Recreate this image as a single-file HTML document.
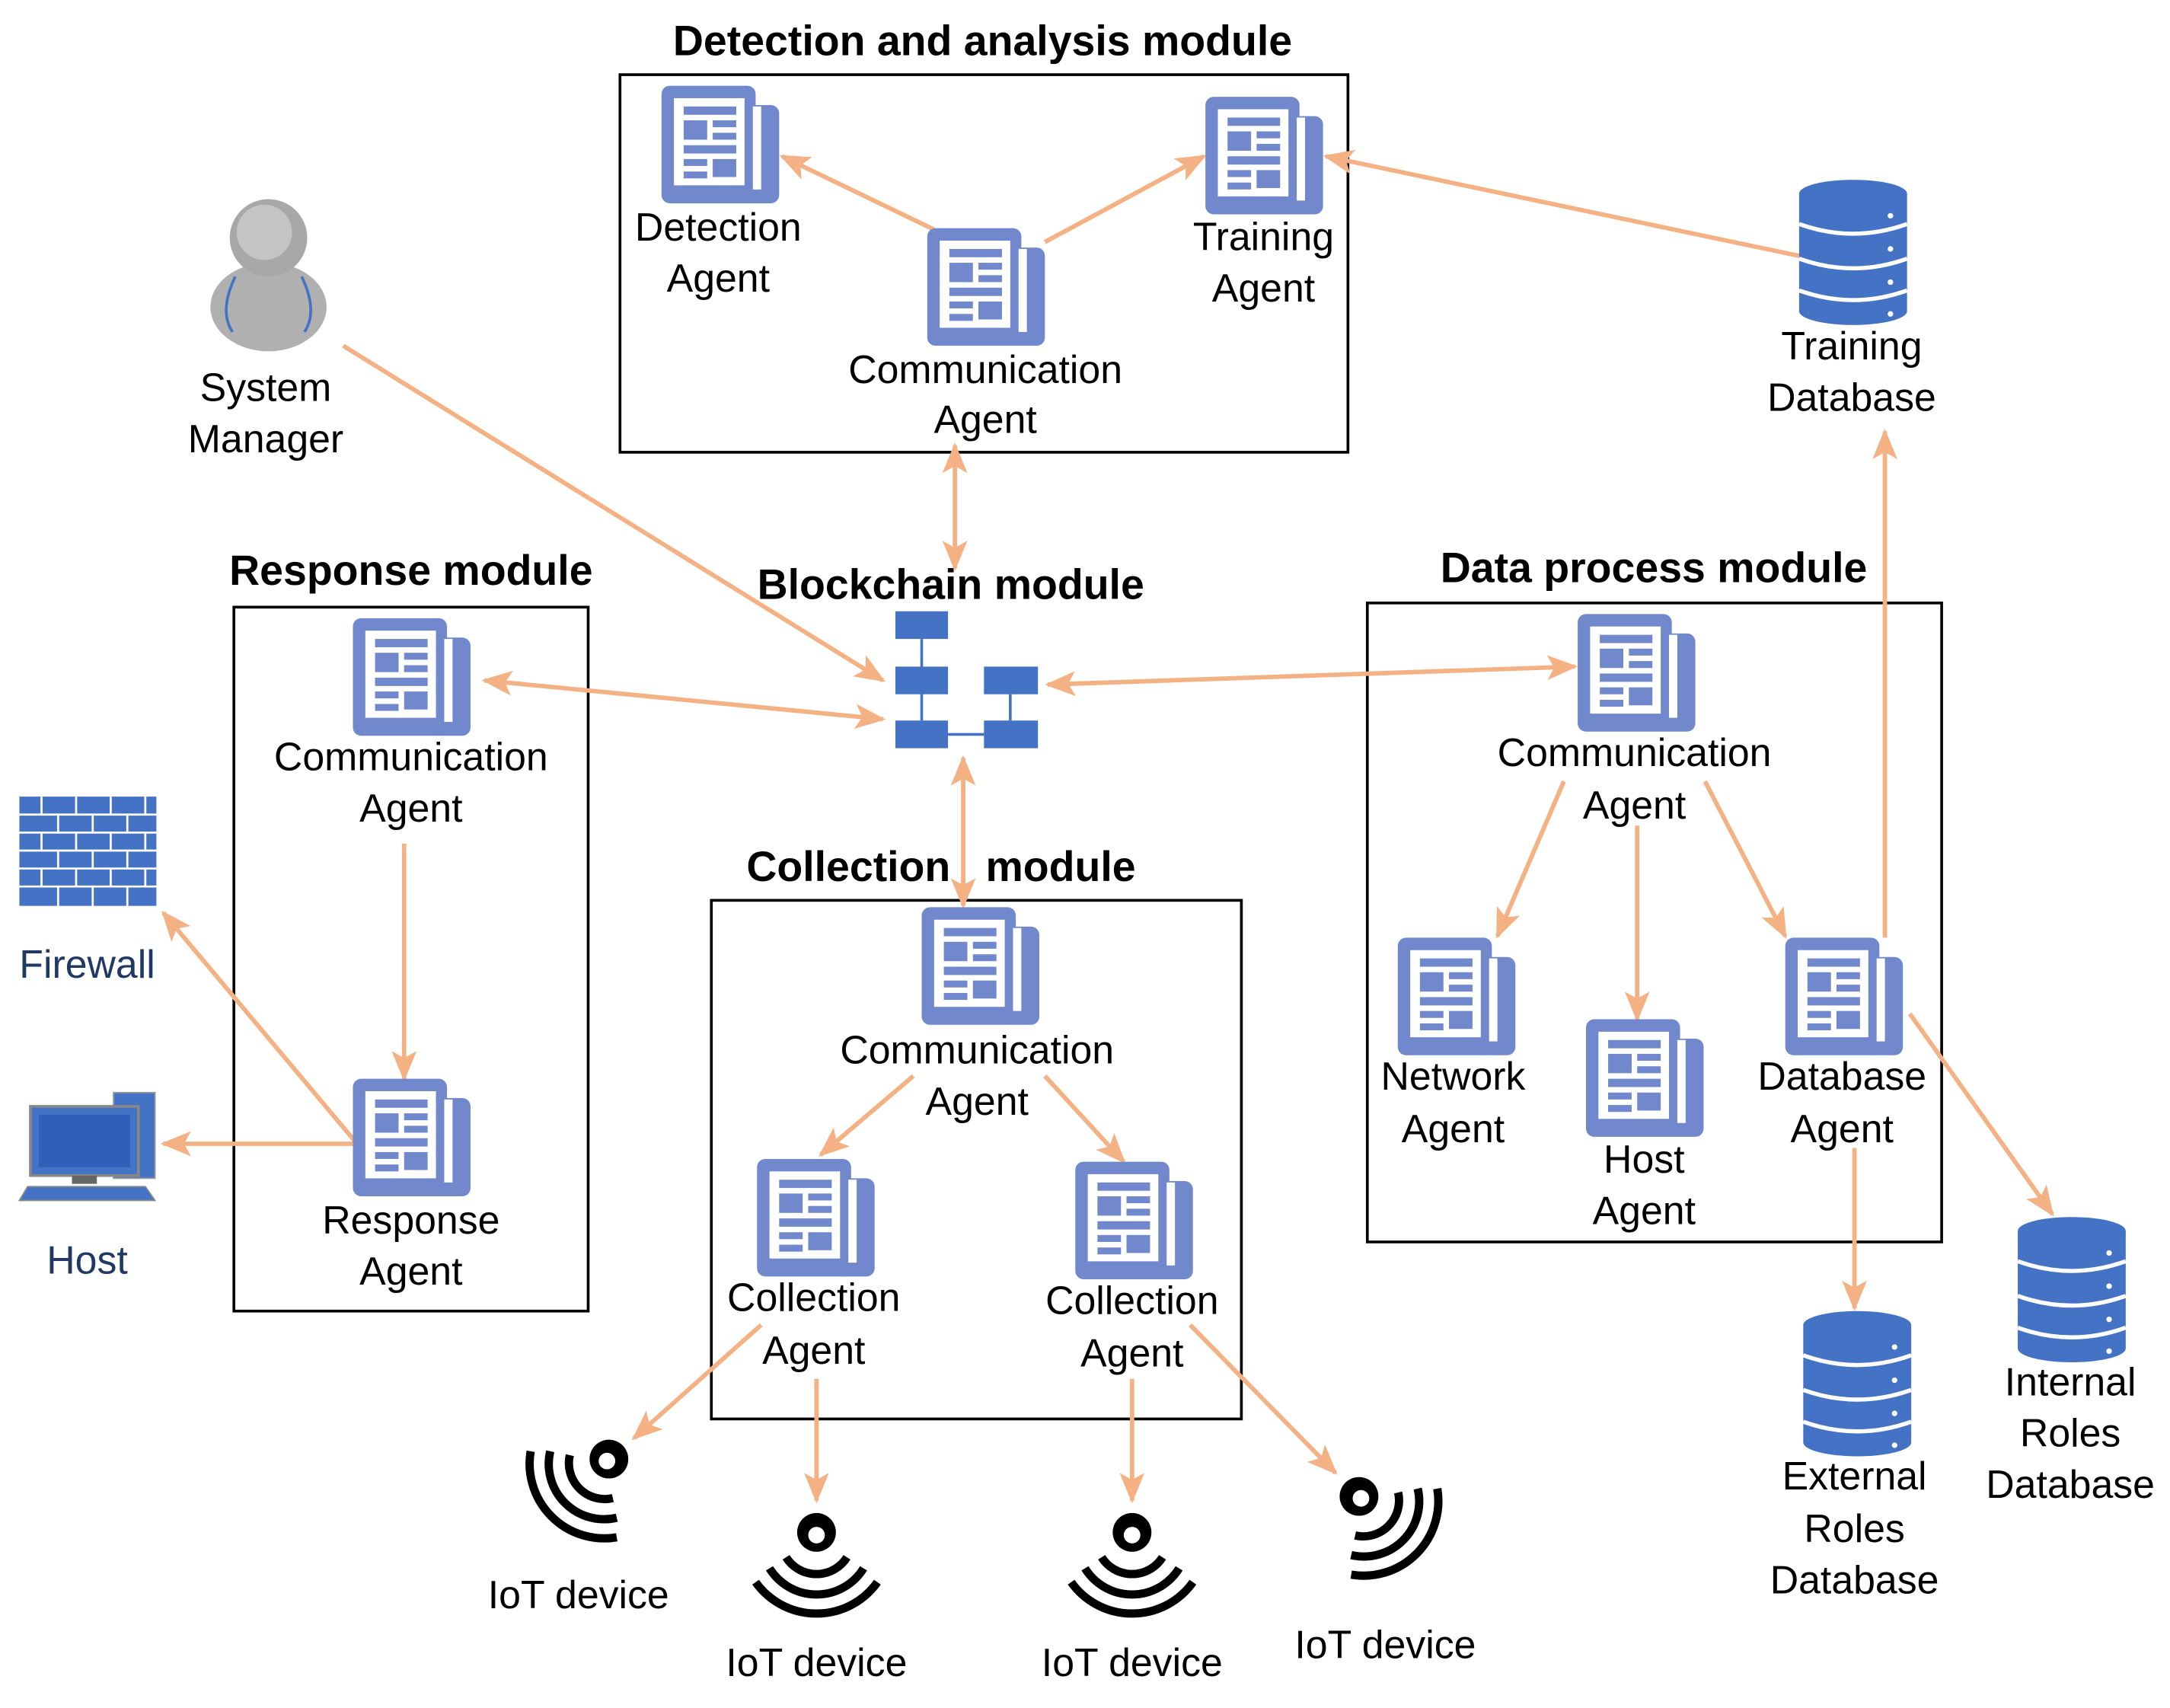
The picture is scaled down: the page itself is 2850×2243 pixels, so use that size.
<!DOCTYPE html>
<html><head><meta charset="utf-8"><style>
html,body{margin:0;padding:0;background:#fff;}
svg{display:block;}
text{font-family:"Liberation Sans",sans-serif;font-size:28.5px;text-anchor:middle;fill:#000;}
.t{font-weight:bold;font-size:30.5px;}
.a{stroke:#f4b183;stroke-width:3.2;fill:none;}
</style></head><body>
<svg width="2850" height="2243" viewBox="0 0 1568 1235" preserveAspectRatio="none" xmlns="http://www.w3.org/2000/svg">
<defs>
<marker id="m" markerWidth="22" markerHeight="18" refX="20" refY="9" orient="auto-start-reverse" markerUnits="userSpaceOnUse">
<path d="M0,0 L22,9 L0,18 L5,9 z" fill="#f4b183"/></marker>
<g id="ag">
<rect x="0" y="0" width="68" height="85" rx="6" fill="#7189cc"/>
<rect x="56" y="14" width="29" height="71" rx="6" fill="#7189cc"/>
<rect x="9" y="9" width="51" height="63" fill="#fff"/>
<rect x="66" y="15" width="6" height="60" fill="#fff"/>
<rect x="16" y="15" width="38" height="6" fill="#7189cc"/>
<rect x="16" y="25" width="17" height="14" fill="#7189cc"/>
<rect x="37" y="25" width="17" height="5" fill="#7189cc"/>
<rect x="37" y="34" width="17" height="5" fill="#7189cc"/>
<rect x="16" y="43" width="38" height="6" fill="#7189cc"/>
<rect x="16" y="53" width="17" height="5" fill="#7189cc"/>
<rect x="37" y="53" width="17" height="13" fill="#7189cc"/>
<rect x="16" y="62" width="17" height="5" fill="#7189cc"/>
</g>
<g id="db">
<rect x="0" y="10" width="78" height="85" fill="#4472c4"/>
<ellipse cx="39" cy="10" rx="39" ry="10" fill="#4472c4"/>
<ellipse cx="39" cy="95" rx="39" ry="10" fill="#4472c4"/>
<path d="M0,32 Q39,46 78,32 M0,57 Q39,71 78,57 M0,80 Q39,94 78,80" stroke="#fff" stroke-width="3" fill="none"/>
<circle cx="66" cy="26" r="2" fill="#fff"/><circle cx="66" cy="50" r="2" fill="#fff"/><circle cx="66" cy="74" r="2" fill="#fff"/><circle cx="66" cy="97" r="2" fill="#fff"/>
</g>
<g id="iot">
<circle cx="0" cy="0" r="14" fill="#000"/><circle cx="0" cy="2" r="6" fill="#fff"/>
<path d="M-22,18 A26,26 0 0 0 22,18 M-34,26 A40,40 0 0 0 34,26 M-44,36 A54,54 0 0 0 44,36" stroke="#000" stroke-width="6" fill="none"/>
</g>
</defs>

<rect x="448" y="54" width="526" height="273" fill="none" stroke="#000" stroke-width="2"/>
<rect x="169" y="439" width="256" height="509" fill="none" stroke="#000" stroke-width="2"/>
<rect x="514" y="651" width="383" height="375" fill="none" stroke="#000" stroke-width="2"/>
<rect x="988" y="436" width="415" height="462" fill="none" stroke="#000" stroke-width="2"/>

<text class="t" x="710" y="40">Detection and analysis module</text>
<text class="t" x="297" y="423">Response module</text>
<text class="t" x="687" y="433">Blockchain module</text>
<text class="t" x="680" y="637" xml:space="preserve">Collection   module</text>
<text class="t" x="1195" y="421">Data process module</text>

<g class="a">
<line x1="675" y1="166" x2="565" y2="113" marker-end="url(#m)"/>
<line x1="755" y1="175" x2="870" y2="113" marker-end="url(#m)"/>
<line x1="1300" y1="185" x2="958" y2="113" marker-end="url(#m)"/>
<line x1="690" y1="322" x2="690" y2="411" marker-start="url(#m)" marker-end="url(#m)"/>
<line x1="248" y1="250" x2="638" y2="492" marker-end="url(#m)"/>
<line x1="350" y1="492" x2="638" y2="520" marker-start="url(#m)" marker-end="url(#m)"/>
<line x1="757" y1="495" x2="1138" y2="482" marker-start="url(#m)" marker-end="url(#m)"/>
<line x1="696" y1="548" x2="696" y2="655" marker-start="url(#m)" marker-end="url(#m)"/>
<line x1="292" y1="610" x2="292" y2="780" marker-end="url(#m)"/>
<line x1="258" y1="827" x2="118" y2="827" marker-end="url(#m)"/>
<line x1="258" y1="827" x2="118" y2="660" marker-end="url(#m)"/>
<line x1="1130" y1="565" x2="1082" y2="677" marker-end="url(#m)"/>
<line x1="1183" y1="597" x2="1183" y2="737" marker-end="url(#m)"/>
<line x1="1232" y1="565" x2="1290" y2="677" marker-end="url(#m)"/>
<line x1="1362" y1="678" x2="1362" y2="312" marker-end="url(#m)"/>
<line x1="1340" y1="830" x2="1340" y2="946" marker-end="url(#m)"/>
<line x1="1380" y1="733" x2="1483" y2="878" marker-end="url(#m)"/>
<line x1="660" y1="778" x2="593" y2="835" marker-end="url(#m)"/>
<line x1="755" y1="778" x2="812" y2="840" marker-end="url(#m)"/>
<line x1="550" y1="958" x2="458" y2="1040" marker-end="url(#m)"/>
<line x1="590" y1="997" x2="590" y2="1085" marker-end="url(#m)"/>
<line x1="818" y1="997" x2="818" y2="1085" marker-end="url(#m)"/>
<line x1="860" y1="958" x2="965" y2="1065" marker-end="url(#m)"/>
</g>

<use href="#ag" x="478" y="62"/>
<use href="#ag" x="670" y="165"/>
<use href="#ag" x="871" y="70"/>
<use href="#ag" x="255" y="447"/>
<use href="#ag" x="255" y="780"/>
<use href="#ag" x="666" y="656"/>
<use href="#ag" x="547" y="838"/>
<use href="#ag" x="777" y="840"/>
<use href="#ag" x="1140" y="444"/>
<use href="#ag" x="1010" y="678"/>
<use href="#ag" x="1146" y="737"/>
<use href="#ag" x="1290" y="678"/>

<g fill="#4472c4">
<rect x="647" y="442" width="38" height="20"/><rect x="647" y="482" width="38" height="20"/>
<rect x="647" y="521" width="38" height="20"/><rect x="711" y="482" width="39" height="20"/>
<rect x="711" y="521" width="39" height="20"/>
</g>
<path d="M666,462V521 M685,531H711 M730,502V521" stroke="#4472c4" stroke-width="2"/>

<use href="#db" x="1300" y="130"/>
<use href="#db" x="1303" y="948"/>
<use href="#db" x="1458" y="880"/>

<ellipse cx="194" cy="222" rx="42" ry="32" fill="#b0b0b0"/>
<circle cx="194" cy="172" r="28" fill="#a8a8a8"/>
<circle cx="191" cy="168" r="20" fill="#c4c4c4"/>
<path d="M170,200 Q158,225 168,240 M218,200 Q230,225 220,240" stroke="#4472c4" stroke-width="2" fill="none"/>

<rect x="14" y="576" width="99" height="79" fill="#4472c4"/>
<g stroke="#fff" stroke-width="1.5">
<path d="M14,589H113 M14,602H113 M14,615H113 M14,628H113 M14,641H113"/>
<path d="M30,576V589 M55,576V589 M80,576V589 M105,576V589 M42,589V602 M67,589V602 M92,589V602 M30,602V615 M55,602V615 M80,602V615 M105,602V615 M42,615V628 M67,615V628 M92,615V628 M30,628V641 M55,628V641 M80,628V641 M105,628V641 M42,641V655 M67,641V655 M92,641V655"/>
</g>
<text x="63" y="707" style="fill:#203864">Firewall</text>

<rect x="82" y="790" width="30" height="62" fill="#4472c4" stroke="#999"/>
<rect x="22" y="800" width="78" height="50" fill="#4472c4" stroke="#888" stroke-width="2"/>
<rect x="28" y="806" width="66" height="38" fill="#2f5fb8"/>
<rect x="52" y="850" width="18" height="6" fill="#666"/>
<path d="M20,858H105L112,868H14Z" fill="#4472c4" stroke="#888"/>
<text x="63" y="921" style="fill:#203864">Host</text>

<use href="#iot" transform="translate(590,1108)"/>
<use href="#iot" transform="translate(818,1108)"/>
<use href="#iot" transform="translate(440,1055) rotate(45)"/>
<use href="#iot" transform="translate(982,1082) rotate(-45)"/>

<text x="519" y="174">Detection</text><text x="519" y="211">Agent</text>
<text x="712" y="277">Communication</text><text x="712" y="313">Agent</text>
<text x="913" y="181">Training</text><text x="913" y="218">Agent</text>
<text x="1338" y="260">Training</text><text x="1338" y="297">Database</text>
<text x="192" y="290">System</text><text x="192" y="327">Manager</text>
<text x="297" y="557">Communication</text><text x="297" y="594">Agent</text>
<text x="297" y="892">Response</text><text x="297" y="929">Agent</text>
<text x="706" y="769">Communication</text><text x="706" y="806">Agent</text>
<text x="588" y="948">Collection</text><text x="588" y="986">Agent</text>
<text x="818" y="950">Collection</text><text x="818" y="988">Agent</text>
<text x="418" y="1163">IoT device</text>
<text x="590" y="1212">IoT device</text>
<text x="818" y="1212">IoT device</text>
<text x="1001" y="1199">IoT device</text>
<text x="1181" y="554">Communication</text><text x="1181" y="592">Agent</text>
<text x="1050" y="788">Network</text><text x="1050" y="826">Agent</text>
<text x="1188" y="848">Host</text><text x="1188" y="885">Agent</text>
<text x="1331" y="788">Database</text><text x="1331" y="826">Agent</text>
<text x="1340" y="1077">External</text><text x="1340" y="1115">Roles</text><text x="1340" y="1152">Database</text>
<text x="1496" y="1009">Internal</text><text x="1496" y="1046">Roles</text><text x="1496" y="1083">Database</text>
</svg>
</body></html>
